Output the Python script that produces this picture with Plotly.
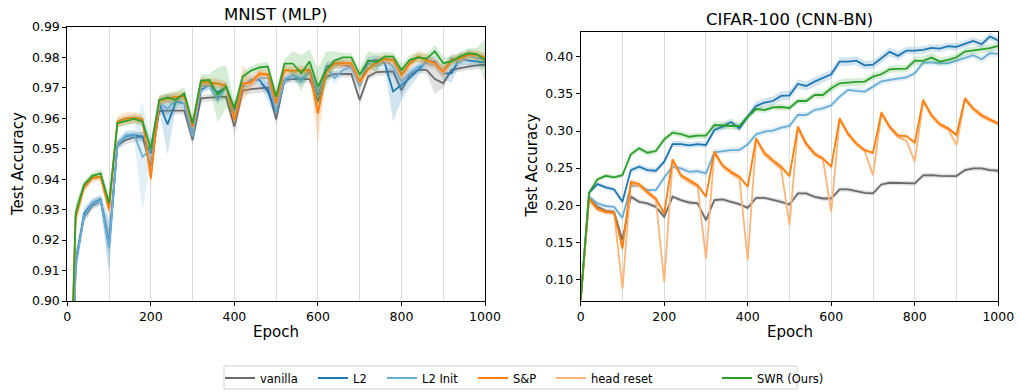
import plotly.graph_objects as go

W, H = 1019, 392

EPOCHS = [0, 20, 40, 60, 80, 100, 120, 140, 160, 180, 200, 220, 240, 260, 280, 300, 320, 340, 360, 380,
          400, 420, 440, 460, 480, 500, 520, 540, 560, 580, 600, 620, 640, 660, 680, 700, 720, 740, 760, 780,
          800, 820, 840, 860, 880, 900, 920, 940, 960, 980, 1000]

SERIES_NAMES = ["vanilla", "L2", "L2 Init", "S&P", "head reset", "SWR (Ours)"]

# ---------------- MNIST (MLP) ----------------
mnist_vanilla = [0.80, 0.913, 0.9276, 0.9314, 0.933, 0.9193, 0.9512, 0.9529, 0.9537, 0.954, 0.944, 0.9624, 0.9625,
                 0.9625, 0.9625, 0.9529, 0.9666, 0.9668, 0.967, 0.9671, 0.9573, 0.9691, 0.9696, 0.9699, 0.9701,
                 0.9597, 0.9726, 0.9729, 0.9729, 0.9729, 0.9655, 0.9737, 0.9745, 0.9746, 0.9746, 0.966, 0.9737,
                 0.9752, 0.9754, 0.9754, 0.9693, 0.9743, 0.9759, 0.9759, 0.9729, 0.9715, 0.9759, 0.9765, 0.977,
                 0.9774, 0.9776]
mnist_vanilla_std = [0.003, 0.003, 0.002, 0.0015, 0.0015, 0.004, 0.0015, 0.0015, 0.0015, 0.0015, 0.003, 0.0012,
                     0.0012, 0.0012, 0.0012, 0.002, 0.0012, 0.0012, 0.0012, 0.0012, 0.003, 0.0015, 0.0015, 0.0015,
                     0.0015, 0.002, 0.0012, 0.0012, 0.0012, 0.0012, 0.0015, 0.0012, 0.0012, 0.0012, 0.0012, 0.0015,
                     0.0012, 0.0012, 0.0012, 0.0012, 0.002, 0.0012, 0.0012, 0.0012, 0.005, 0.0015, 0.0012, 0.0012,
                     0.0012, 0.0012, 0.0012]
mnist_l2 = [0.80, 0.912, 0.9287, 0.9322, 0.9333, 0.9177, 0.9515, 0.9542, 0.9545, 0.954, 0.9485, 0.9649, 0.958,
            0.9655, 0.9649, 0.955, 0.9693, 0.971, 0.9685, 0.9704, 0.9627, 0.9704, 0.9726, 0.9726, 0.9688, 0.9622,
            0.9726, 0.9743, 0.9726, 0.9754, 0.9677, 0.977, 0.9778, 0.9776, 0.977, 0.971, 0.9787, 0.9792, 0.9781,
            0.9688, 0.971, 0.9732, 0.9759, 0.9787, 0.9787, 0.9748, 0.9748, 0.9798, 0.979, 0.9787, 0.9784]
mnist_l2_std = [0.003, 0.004, 0.002, 0.0015, 0.0015, 0.009, 0.0015, 0.0015, 0.0012, 0.0015, 0.002, 0.002, 0.010,
                0.002, 0.0015, 0.002, 0.0015, 0.0015, 0.0015, 0.0015, 0.002, 0.0015, 0.0015, 0.0015, 0.003, 0.002,
                0.0015, 0.0015, 0.0015, 0.0015, 0.002, 0.0015, 0.0015, 0.0015, 0.0015, 0.002, 0.0015, 0.0015,
                0.0015, 0.010, 0.005, 0.003, 0.002, 0.0015, 0.0015, 0.002, 0.003, 0.002, 0.0015, 0.0015, 0.0015]
mnist_l2init = [0.80, 0.912, 0.928, 0.932, 0.933, 0.9177, 0.9512, 0.9545, 0.9548, 0.9474, 0.9497, 0.9649, 0.9633,
                0.966, 0.9649, 0.954, 0.9704, 0.971, 0.966, 0.9704, 0.9611, 0.971, 0.9721, 0.9732, 0.9732, 0.9622,
                0.9726, 0.9743, 0.9723, 0.9759, 0.9685, 0.977, 0.9732, 0.9759, 0.9767, 0.9704, 0.9781, 0.977,
                0.9792, 0.977, 0.9721, 0.9748, 0.977, 0.9781, 0.9776, 0.9748, 0.9798, 0.9781, 0.9809, 0.9798, 0.9795]
mnist_l2init_std = [0.003, 0.004, 0.002, 0.0015, 0.0015, 0.008, 0.0015, 0.0015, 0.0015, 0.018, 0.003, 0.0015,
                    0.003, 0.0015, 0.0015, 0.002, 0.0015, 0.0015, 0.0015, 0.0015, 0.002, 0.0015, 0.0015, 0.0015,
                    0.002, 0.002, 0.0015, 0.0015, 0.002, 0.0015, 0.002, 0.0015, 0.002, 0.0015, 0.0015, 0.002,
                    0.0015, 0.0015, 0.0015, 0.0015, 0.003, 0.002, 0.0015, 0.0015, 0.0015, 0.002, 0.002, 0.0015,
                    0.002, 0.0015, 0.0015]
mnist_sp = [0.83, 0.928, 0.9375, 0.9405, 0.9408, 0.9303, 0.959, 0.960, 0.9602, 0.9598, 0.9402, 0.966, 0.9666,
            0.9671, 0.9674, 0.9573, 0.9721, 0.9718, 0.9715, 0.9707, 0.9595, 0.9715, 0.9718, 0.9748, 0.9745, 0.9649,
            0.9759, 0.9757, 0.9759, 0.9759, 0.9616, 0.9754, 0.9781, 0.9781, 0.9781, 0.9721, 0.9762, 0.9784, 0.9795,
            0.9792, 0.9743, 0.9781, 0.9803, 0.9792, 0.9781, 0.9754, 0.9792, 0.9798, 0.9809, 0.9809, 0.980]
mnist_sp_std = [0.003, 0.003, 0.0015, 0.0012, 0.0012, 0.002, 0.0018, 0.002, 0.0018, 0.0015, 0.003, 0.0015, 0.0015,
                0.0015, 0.0015, 0.002, 0.0015, 0.0015, 0.0015, 0.0015, 0.002, 0.006, 0.002, 0.0015, 0.0015, 0.002,
                0.0015, 0.0015, 0.0015, 0.0015, 0.010, 0.0015, 0.0015, 0.0015, 0.0015, 0.002, 0.0015, 0.0015,
                0.0015, 0.0015, 0.002, 0.0015, 0.002, 0.002, 0.0015, 0.002, 0.0015, 0.0015, 0.0015, 0.0015, 0.0015]
mnist_head = [0.83, 0.927, 0.937, 0.9402, 0.9405, 0.9295, 0.9585, 0.9596, 0.9599, 0.9594, 0.9415, 0.9655, 0.9662,
              0.9668, 0.967, 0.957, 0.9716, 0.9715, 0.9712, 0.9703, 0.9598, 0.9712, 0.9714, 0.9743, 0.9741, 0.9652,
              0.9755, 0.9754, 0.9755, 0.9755, 0.962, 0.975, 0.9778, 0.9778, 0.9777, 0.9718, 0.9758, 0.978, 0.9791,
              0.9788, 0.974, 0.9777, 0.98, 0.9789, 0.9778, 0.975, 0.9789, 0.9795, 0.9806, 0.9806, 0.9797]
mnist_head_std = [0.003, 0.003, 0.0015, 0.0012, 0.0012, 0.002, 0.0015, 0.0015, 0.0015, 0.0015, 0.003, 0.0015,
                  0.0015, 0.0015, 0.0015, 0.002, 0.0015, 0.0015, 0.0015, 0.0015, 0.002, 0.003, 0.0015, 0.0015,
                  0.0015, 0.002, 0.0015, 0.0015, 0.0015, 0.0015, 0.004, 0.0015, 0.0015, 0.0015, 0.0015, 0.002,
                  0.0015, 0.0015, 0.0015, 0.0015, 0.002, 0.0015, 0.0015, 0.0015, 0.0015, 0.002, 0.0015, 0.0015,
                  0.0015, 0.0015, 0.0015]
mnist_swr = [0.83, 0.929, 0.9382, 0.9411, 0.9419, 0.9322, 0.9584, 0.9591, 0.9598, 0.9589, 0.950, 0.966, 0.9669,
             0.966, 0.9682, 0.9584, 0.9724, 0.9726, 0.9677, 0.9704, 0.9633, 0.9737, 0.9757, 0.9767, 0.977, 0.9671,
             0.978, 0.978, 0.9748, 0.9787, 0.9704, 0.9759, 0.979, 0.980, 0.980, 0.9743, 0.979, 0.9784, 0.9803,
             0.9803, 0.9759, 0.9792, 0.980, 0.9796, 0.982, 0.9781, 0.9787, 0.9803, 0.9814, 0.9811, 0.979]
mnist_swr_std = [0.003, 0.003, 0.0015, 0.0012, 0.0012, 0.002, 0.0015, 0.0015, 0.0015, 0.0015, 0.003, 0.0015,
                 0.0015, 0.003, 0.002, 0.002, 0.002, 0.002, 0.009, 0.007, 0.002, 0.0015, 0.0015, 0.0015, 0.0015,
                 0.002, 0.0015, 0.004, 0.006, 0.004, 0.006, 0.006, 0.003, 0.0015, 0.0015, 0.002, 0.003, 0.003,
                 0.0015, 0.0015, 0.002, 0.0015, 0.0015, 0.0015, 0.002, 0.002, 0.0015, 0.0015, 0.0015, 0.002, 0.007]

# ---------------- CIFAR-100 (CNN-BN) ----------------
cifar_vanilla = [0.072, 0.2099, 0.1977, 0.1923, 0.191, 0.1527, 0.2113, 0.2045, 0.2023, 0.1977, 0.1842, 0.2113,
                 0.2068, 0.2036, 0.2023, 0.1797, 0.2068, 0.2077, 0.2045, 0.2014, 0.1964, 0.2099, 0.2099, 0.2077,
                 0.2045, 0.2009, 0.2158, 0.2158, 0.2113, 0.209, 0.209, 0.2212, 0.2212, 0.2189, 0.2167, 0.2158,
                 0.2279, 0.2302, 0.2302, 0.2293, 0.2293, 0.2401, 0.2405, 0.2396, 0.2392, 0.2392, 0.2473, 0.2495,
                 0.2495, 0.2473, 0.2464]
cifar_vanilla_std = [0.002, 0.003, 0.003, 0.003, 0.003, 0.005, 0.004, 0.003, 0.003, 0.003, 0.004, 0.003, 0.003,
                     0.003, 0.003, 0.004, 0.003, 0.003, 0.003, 0.003, 0.003, 0.003, 0.003, 0.003, 0.003, 0.003,
                     0.003, 0.003, 0.003, 0.003, 0.003, 0.003, 0.003, 0.003, 0.003, 0.003, 0.003, 0.003, 0.003,
                     0.003, 0.003, 0.003, 0.003, 0.003, 0.003, 0.003, 0.003, 0.003, 0.003, 0.003, 0.003]
cifar_l2 = [0.072, 0.2167, 0.2284, 0.2239, 0.2212, 0.2045, 0.2473, 0.2518, 0.2473, 0.2464, 0.2586, 0.2824, 0.2824,
            0.2806, 0.2824, 0.2811, 0.3014, 0.3059, 0.3122, 0.3036, 0.3194, 0.3338, 0.3383, 0.3405, 0.3473, 0.3482,
            0.3635, 0.3608, 0.3667, 0.3712, 0.3766, 0.3937, 0.3937, 0.395, 0.3887, 0.3896, 0.3982, 0.4068, 0.4014,
            0.4086, 0.4086, 0.4095, 0.4122, 0.4113, 0.4144, 0.4135, 0.4176, 0.4216, 0.4171, 0.4275, 0.4221]
cifar_l2_std = [0.002, 0.003, 0.003, 0.003, 0.003, 0.004, 0.004, 0.004, 0.004, 0.004, 0.004, 0.004, 0.004, 0.004,
                0.004, 0.004, 0.005, 0.005, 0.005, 0.005, 0.005, 0.006, 0.006, 0.006, 0.006, 0.006, 0.006, 0.006,
                0.006, 0.006, 0.006, 0.006, 0.006, 0.006, 0.006, 0.006, 0.006, 0.006, 0.006, 0.005, 0.005, 0.005,
                0.005, 0.005, 0.005, 0.005, 0.005, 0.005, 0.005, 0.005, 0.005]
cifar_l2init = [0.072, 0.2113, 0.2023, 0.1986, 0.1977, 0.1829, 0.2261, 0.2261, 0.2203, 0.2203, 0.2374, 0.2518,
                0.2495, 0.245, 0.2459, 0.2428, 0.2712, 0.273, 0.2743, 0.2743, 0.282, 0.2955, 0.2991, 0.3005, 0.3045,
                0.3068, 0.3216, 0.3216, 0.3284, 0.3306, 0.3347, 0.3464, 0.3554, 0.3541, 0.3532, 0.3599, 0.3671,
                0.3689, 0.3707, 0.3725, 0.3779, 0.3923, 0.3923, 0.3914, 0.3914, 0.395, 0.3982, 0.4023, 0.3968,
                0.405, 0.4041]
cifar_l2init_std = [0.002, 0.003, 0.003, 0.003, 0.003, 0.004, 0.003, 0.003, 0.003, 0.003, 0.004, 0.004, 0.004,
                    0.004, 0.004, 0.004, 0.004, 0.004, 0.004, 0.004, 0.004, 0.004, 0.004, 0.004, 0.004, 0.004,
                    0.004, 0.004, 0.004, 0.004, 0.004, 0.004, 0.004, 0.004, 0.004, 0.004, 0.004, 0.004, 0.004,
                    0.004, 0.004, 0.004, 0.004, 0.004, 0.004, 0.004, 0.004, 0.004, 0.005, 0.005, 0.005]
cifar_sp = [0.072, 0.209, 0.1955, 0.191, 0.1901, 0.1414, 0.2315, 0.2284, 0.218, 0.209, 0.1887, 0.2617, 0.2405,
            0.2338, 0.227, 0.2113, 0.2721, 0.2536, 0.245, 0.2383, 0.2248, 0.2901, 0.2707, 0.2608, 0.2518, 0.2392,
            0.3059, 0.2833, 0.2698, 0.2631, 0.2518, 0.3171, 0.2968, 0.2833, 0.2743, 0.2707, 0.3252, 0.3059, 0.2937,
            0.2932, 0.2842, 0.3419, 0.3216, 0.3095, 0.3036, 0.2946, 0.3441, 0.3306, 0.3216, 0.3158, 0.3104]
cifar_sp_std = [0.002, 0.004, 0.004, 0.003, 0.003, 0.006, 0.004, 0.004, 0.004, 0.003, 0.004, 0.004, 0.004, 0.004,
                0.003, 0.003, 0.004, 0.004, 0.004, 0.003, 0.003, 0.004, 0.004, 0.004, 0.004, 0.003, 0.004, 0.004,
                0.004, 0.003, 0.003, 0.004, 0.004, 0.004, 0.003, 0.003, 0.004, 0.004, 0.004, 0.003, 0.003, 0.004,
                0.004, 0.004, 0.003, 0.003, 0.004, 0.004, 0.004, 0.003, 0.003]
cifar_head = [0.072, 0.206, 0.194, 0.19, 0.189, 0.0874, 0.229, 0.226, 0.216, 0.207, 0.0964, 0.259, 0.239, 0.231,
              0.225, 0.1279, 0.270, 0.252, 0.243, 0.236, 0.1257, 0.288, 0.268, 0.258, 0.249, 0.173, 0.303, 0.281,
              0.268, 0.262, 0.191, 0.315, 0.295, 0.282, 0.273, 0.2405, 0.323, 0.304, 0.292, 0.287, 0.2586, 0.339,
              0.32, 0.308, 0.302, 0.2811, 0.342, 0.329, 0.32, 0.314, 0.309]
cifar_head_std = [0.002, 0.003, 0.003, 0.003, 0.003, 0.004, 0.003, 0.003, 0.003, 0.003, 0.004, 0.003, 0.003,
                  0.003, 0.003, 0.004, 0.003, 0.003, 0.003, 0.003, 0.004, 0.003, 0.003, 0.003, 0.003, 0.004, 0.003,
                  0.003, 0.003, 0.003, 0.004, 0.003, 0.003, 0.003, 0.003, 0.004, 0.003, 0.003, 0.003, 0.003, 0.004,
                  0.003, 0.003, 0.003, 0.003, 0.004, 0.003, 0.003, 0.003, 0.003, 0.003]
cifar_swr = [0.072, 0.2167, 0.2347, 0.2396, 0.2374, 0.2405, 0.2685, 0.2766, 0.2707, 0.273, 0.2887, 0.2977, 0.2959,
             0.2923, 0.2937, 0.2937, 0.3081, 0.3072, 0.3068, 0.3068, 0.3194, 0.3297, 0.3284, 0.332, 0.3324, 0.3311,
             0.3405, 0.3405, 0.3486, 0.3486, 0.3577, 0.3644, 0.3658, 0.3662, 0.3667, 0.3734, 0.3766, 0.3833,
             0.3838, 0.3842, 0.395, 0.3946, 0.3991, 0.3937, 0.3959, 0.3995, 0.4072, 0.4086, 0.4104, 0.4117, 0.4149]
cifar_swr_std = [0.002, 0.003, 0.003, 0.003, 0.003, 0.003, 0.004, 0.004, 0.004, 0.004, 0.004, 0.004, 0.004, 0.004,
                 0.004, 0.004, 0.005, 0.005, 0.005, 0.005, 0.004, 0.004, 0.004, 0.004, 0.004, 0.004, 0.004, 0.004,
                 0.004, 0.005, 0.005, 0.005, 0.005, 0.005, 0.005, 0.005, 0.005, 0.005, 0.005, 0.005, 0.006, 0.006,
                 0.006, 0.006, 0.005, 0.005, 0.005, 0.005, 0.005, 0.005, 0.005]

COLORS = {
    "vanilla": "#6b6b6b",
    "L2": "#1f77b4",
    "L2 Init": "#6aaed6",
    "S&P": "#ff7f0e",
    "head reset": "#fdb57a",
    "SWR (Ours)": "#2ca02c",
}

MNIST = {
    "vanilla": (mnist_vanilla, mnist_vanilla_std),
    "L2": (mnist_l2, mnist_l2_std),
    "L2 Init": (mnist_l2init, mnist_l2init_std),
    "S&P": (mnist_sp, mnist_sp_std),
    "head reset": (mnist_head, mnist_head_std),
    "SWR (Ours)": (mnist_swr, mnist_swr_std),
}
CIFAR = {
    "vanilla": (cifar_vanilla, cifar_vanilla_std),
    "L2": (cifar_l2, cifar_l2_std),
    "L2 Init": (cifar_l2init, cifar_l2init_std),
    "S&P": (cifar_sp, cifar_sp_std),
    "head reset": (cifar_head, cifar_head_std),
    "SWR (Ours)": (cifar_swr, cifar_swr_std),
}

DRAW_ORDER = ["vanilla", "L2", "L2 Init", "head reset", "S&P", "SWR (Ours)"]


def rgba(hexc, a):
    h = hexc.lstrip("#")
    r, g, b = int(h[0:2], 16), int(h[2:4], 16), int(h[4:6], 16)
    return f"rgba({r},{g},{b},{a})"


fig = go.Figure()

for data, xa, ya, show in [(MNIST, "x", "y", True), (CIFAR, "x2", "y2", False)]:
    for name in DRAW_ORDER:
        mean, std = data[name]
        upper = [m + s for m, s in zip(mean, std)]
        lower = [m - s for m, s in zip(mean, std)]
        fig.add_trace(go.Scatter(
            x=EPOCHS + EPOCHS[::-1], y=upper + lower[::-1], fill="toself",
            fillcolor=rgba(COLORS[name], 0.2), line=dict(width=0), mode="lines",
            hoverinfo="skip", showlegend=False, xaxis=xa, yaxis=ya))
        idx = SERIES_NAMES.index(name)
        fig.add_trace(go.Scatter(
            x=EPOCHS, y=mean, mode="lines", name=name,
            line=dict(color=COLORS[name], width=1.8),
            showlegend=show, legend=("legend" if idx == 0 else f"legend{idx + 1}"),
            xaxis=xa, yaxis=ya))

FONT = "DejaVu Sans"
axis_common = dict(
    showline=True, linecolor="black", linewidth=1, mirror=True,
    ticks="outside", ticklen=4, tickwidth=1, tickcolor="black",
    tickfont=dict(family=FONT, size=12.5, color="black"), zeroline=False,
)
xcommon = dict(axis_common, range=[0, 1000], tickvals=[0, 200, 400, 600, 800, 1000],
               showgrid=True, gridcolor="#dcdcdc", gridwidth=1,
               minor=dict(tickvals=[100, 300, 500, 700, 900], showgrid=True, gridcolor="#dcdcdc",
                          gridwidth=1, ticks=""))

def px(x):
    return x / W

def py(y):
    return 1 - y / H

fig.update_layout(
    width=W, height=H, margin=dict(l=0, r=0, t=0, b=0, autoexpand=False),
    paper_bgcolor="white", plot_bgcolor="white",
    font=dict(family=FONT, color="black"),
    xaxis=dict(xcommon, domain=[px(67.3), px(485)], anchor="y", automargin=False),
    yaxis=dict(axis_common, domain=[py(301), py(27)], range=[0.90, 0.99],
               tickvals=[0.90, 0.91, 0.92, 0.93, 0.94, 0.95, 0.96, 0.97, 0.98, 0.99],
               tickformat=".2f", showgrid=False, anchor="x", automargin=False),
    xaxis2=dict(xcommon, domain=[px(580.7), px(998.3)], anchor="y2", automargin=False),
    yaxis2=dict(axis_common, domain=[py(301), py(31.7)], range=[0.0707, 0.434],
                tickvals=[0.10, 0.15, 0.20, 0.25, 0.30, 0.35, 0.40],
                tickformat=".2f", showgrid=False, anchor="x2", automargin=False),
)

# legends: one row, each entry placed where the original puts it
LEGEND_LINE_START = [226, 319, 388, 479, 557, 723]
legend_layout = {}
for i, xs in enumerate(LEGEND_LINE_START):
    key = "legend" if i == 0 else f"legend{i + 1}"
    legend_layout[key] = dict(
        x=px(xs - 6), y=py(378), xanchor="left", yanchor="middle",
        orientation="h", bgcolor="rgba(0,0,0,0)", borderwidth=0,
        font=dict(family=FONT, size=11.5, color="black"),
    )
fig.update_layout(**legend_layout)

fig.add_shape(type="rect", xref="paper", yref="paper",
              x0=px(224), x1=px(797), y0=py(389), y1=py(366),
              line=dict(color="#d0d0d0", width=1), fillcolor="rgba(0,0,0,0)", layer="below")

ann = []
ann.append(dict(text="MNIST (MLP)", x=px(276), y=py(15), font=dict(size=16.5)))
ann.append(dict(text="CIFAR-100 (CNN-BN)", x=px(789.5), y=py(19.5), font=dict(size=16.5)))
ann.append(dict(text="Epoch", x=px(276), y=py(332), font=dict(size=15)))
ann.append(dict(text="Epoch", x=px(789.5), y=py(332), font=dict(size=15)))
ann.append(dict(text="Test Accuracy", x=px(18), y=py(164), textangle=-90, font=dict(size=15)))
ann.append(dict(text="Test Accuracy", x=px(531.5), y=py(166), textangle=-90, font=dict(size=15)))
for a in ann:
    a.update(xref="paper", yref="paper", showarrow=False, xanchor="center", yanchor="middle")
    a["font"].update(family=FONT, color="black")
fig.update_layout(annotations=ann)

fig.write_html("out.html", config={"displayModeBar": False},
               post_script="document.body.style.margin='0';document.body.style.overflow='hidden';")
